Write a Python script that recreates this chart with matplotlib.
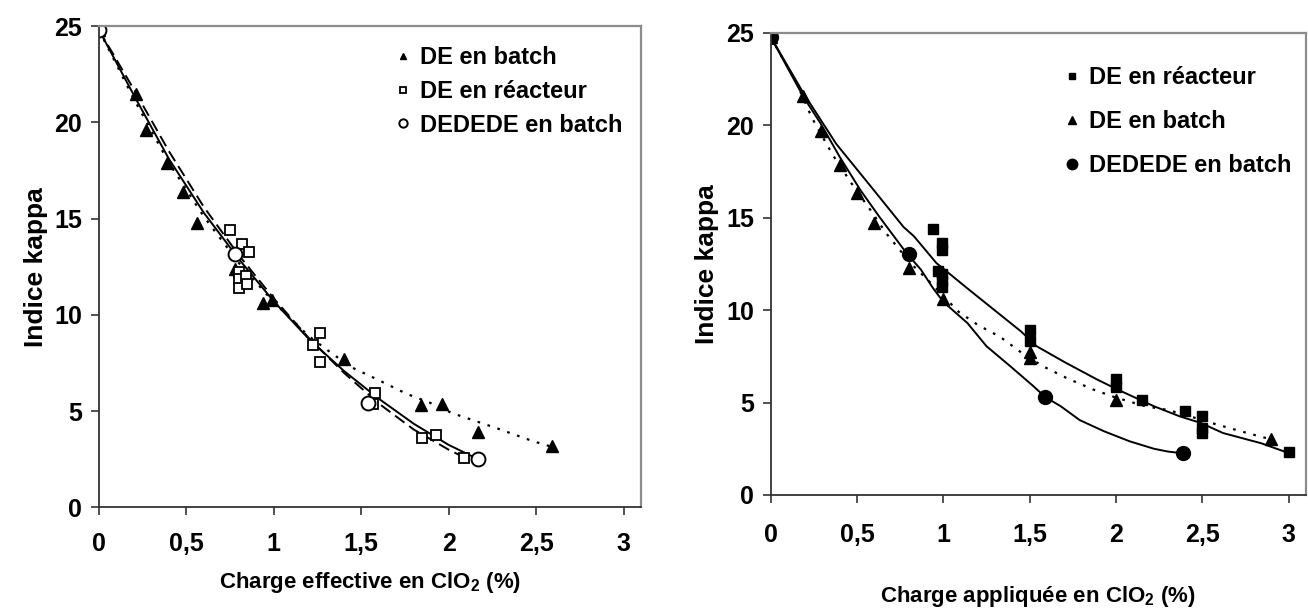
import matplotlib
matplotlib.use("Agg")
import matplotlib.pyplot as plt

plt.rcParams['font.family'] = ['Liberation Sans', 'DejaVu Sans']
plt.rcParams['font.weight'] = 'bold'
plt.rcParams['mathtext.fontset'] = 'custom'
plt.rcParams['mathtext.rm'] = 'Liberation Sans:bold'
plt.rcParams['mathtext.default'] = 'rm'

# --- panel 1 : charge effective ---
eff_batch_x = [0, 0.21, 0.27, 0.39, 0.48, 0.56, 0.78, 0.94, 0.99, 1.40, 1.84, 1.96, 2.17, 2.59]
eff_batch_y = [24.8, 21.5, 19.6, 17.9, 16.4, 14.8, 12.4, 10.6, 10.8, 7.7, 5.3, 5.4, 3.9, 3.2]
eff_reac_x = [0, 0.75, 0.82, 0.855, 0.80, 0.80, 0.80, 0.84, 0.845, 1.265, 1.225, 1.265, 1.58, 1.565, 1.845, 1.93, 2.085]
eff_reac_y = [24.8, 14.4, 13.7, 13.25, 12.25, 11.85, 11.4, 12.0, 11.6, 9.05, 8.45, 7.55, 5.95, 5.4, 3.6, 3.75, 2.55]
eff_ded_x = [0, 0.78, 1.54, 2.17]
eff_ded_y = [24.8, 13.15, 5.45, 2.5]

# trend curves
eff_batch_fit_x = [0, 0.2, 0.4, 0.6, 0.8, 1.0, 1.2, 1.31, 1.44, 1.58, 1.76, 1.89, 2.02, 2.28, 2.48, 2.59]
eff_batch_fit_y = [24.8, 21.2, 17.9, 15.1, 12.7, 10.65, 8.9, 8.15, 7.3, 6.7, 5.9, 5.45, 4.9, 4.1, 3.45, 3.15]
eff_reac_fit_x = [0, 0.2, 0.4, 0.6, 0.8, 1.0, 1.2, 1.4, 1.6, 1.8, 2.0, 2.09]
eff_reac_fit_y = [24.8, 21.7, 18.5, 15.6, 13.1, 10.85, 8.8, 7.0, 5.4, 4.05, 3.0, 2.6]
eff_ded_fit_x = [0, 0.2, 0.4, 0.6, 0.8, 1.0, 1.2, 1.4, 1.6, 1.8, 2.0, 2.17]
eff_ded_fit_y = [24.8, 21.4, 18.1, 15.3, 12.9, 10.7, 8.75, 7.1, 5.65, 4.35, 3.25, 2.5]

# --- panel 2 : charge appliquee ---
app_reac_x = [0, 0.94, 0.99, 0.99, 0.97, 0.99, 0.99, 0.99, 1.5, 1.5, 2.0, 2.0, 2.15, 2.4, 2.5, 2.5, 2.5, 3.0]
app_reac_y = [24.8, 14.4, 13.65, 13.25, 12.1, 11.95, 11.6, 11.25, 8.9, 8.35, 6.25, 5.85, 5.15, 4.55, 4.3, 3.65, 3.35, 2.3]
app_batch_x = [0, 0.19, 0.29, 0.4, 0.5, 0.6, 0.8, 1.0, 1.5, 1.5, 2.0, 2.9]
app_batch_y = [24.8, 21.6, 19.7, 17.85, 16.35, 14.7, 12.3, 10.6, 7.75, 7.4, 5.15, 3.05]
app_ded_x = [0, 0.8, 1.59, 2.39]
app_ded_y = [24.8, 13.05, 5.3, 2.25]

app_reac_fit_x = [0, 0.19, 0.38, 0.58, 0.77, 0.83, 0.96, 1.15, 1.45, 1.54, 1.7, 1.89, 2.01, 2.22, 2.37, 2.49, 2.62, 2.84, 2.99]
app_reac_fit_y = [24.8, 21.75, 19.0, 16.7, 14.5, 14.0, 12.55, 11.1, 8.85, 8.05, 7.2, 6.25, 5.7, 4.8, 4.25, 3.9, 3.35, 2.8, 2.3]
app_batch_fit_x = [0, 0.15, 0.24, 0.36, 0.48, 0.58, 0.67, 0.81, 0.93, 1.09, 1.2, 1.33, 1.46, 1.58, 1.72, 1.87, 1.99, 2.17, 2.3, 2.43, 2.57, 2.76, 2.9]
app_batch_fit_y = [24.8, 22.3, 20.4, 18.4, 16.7, 15.4, 14.15, 12.55, 11.45, 9.9, 9.2, 8.55, 7.65, 6.95, 6.3, 5.7, 5.3, 4.8, 4.6, 4.25, 3.85, 3.35, 3.0]
app_ded_fit_x = [0, 0.19, 0.29, 0.4, 0.52, 0.63, 0.79, 0.87, 0.94, 1.0, 1.14, 1.25, 1.39, 1.52, 1.59, 1.68, 1.79, 1.93, 2.08, 2.22, 2.3, 2.39]
app_ded_fit_y = [24.8, 21.55, 20.1, 18.3, 16.5, 15.05, 13.05, 12.2, 11.2, 10.45, 9.3, 8.05, 6.95, 5.9, 5.3, 4.8, 4.05, 3.45, 2.9, 2.5, 2.35, 2.25]

xticks = [0, 0.5, 1, 1.5, 2, 2.5, 3]
xtick_labels = ['0', '0,5', '1', '1,5', '2', '2,5', '3']
yticks = [0, 5, 10, 15, 20, 25]

fig = plt.figure(figsize=(13.08, 6.08), dpi=100)
ax1 = fig.add_axes([0.0757, 0.1653, 0.4144, 0.7917])
ax2 = fig.add_axes([0.5891, 0.1859, 0.4094, 0.7599])

dotted = (0, (1.2, 3.5))
dashed = (0, (6, 3))

# left panel
ax1.plot(eff_batch_fit_x, eff_batch_fit_y, color='black', lw=1.6, ls=dotted)
ax1.plot(eff_reac_fit_x, eff_reac_fit_y, color='black', lw=1.4, ls=dashed)
ax1.plot(eff_ded_fit_x, eff_ded_fit_y, color='black', lw=1.4)
ax1.plot(eff_batch_x, eff_batch_y, ls='none', marker='^', ms=8, color='black',
         label='DE en batch')
ax1.plot(eff_reac_x, eff_reac_y, ls='none', marker='s', ms=6.5, mfc='white', mec='black',
         mew=1.3, label='DE en réacteur')
ax1.plot(eff_ded_x, eff_ded_y, ls='none', marker='o', ms=10, mfc='white', mec='black',
         mew=1.4, label='DEDEDE en batch')
ax1.set_xlabel('Charge effective en ClO$_2$ (%)', fontsize=16, fontweight='bold', labelpad=10)

# right panel
ax2.plot(app_batch_fit_x, app_batch_fit_y, color='black', lw=1.6, ls=dotted)
ax2.plot(app_reac_fit_x, app_reac_fit_y, color='black', lw=1.4)
ax2.plot(app_ded_fit_x, app_ded_fit_y, color='black', lw=1.4)
ax2.plot(app_reac_x, app_reac_y, ls='none', marker='s', ms=6.5, color='black',
         label='DE en réacteur')
ax2.plot(app_batch_x, app_batch_y, ls='none', marker='^', ms=8, color='black',
         label='DE en batch')
ax2.plot(app_ded_x, app_ded_y, ls='none', marker='o', ms=10, color='black',
         label='DEDEDE en batch')
ax2.set_xlabel('Charge appliquée en ClO$_2$ (%)', fontsize=16, fontweight='bold', labelpad=27)

for ax in (ax1, ax2):
    ax.set_xlim(0, 3.1)
    ax.set_ylim(0, 25)
    ax.set_xticks(xticks)
    ax.set_xticklabels(xtick_labels)
    ax.set_yticks(yticks)
    ax.tick_params(axis='both', direction='out', length=6, width=1.2, colors='#333333',
                   labelcolor='black', labelsize=18)
    ax.tick_params(axis='y', pad=6)
    for lab in ax.get_xticklabels() + ax.get_yticklabels():
        lab.set_fontweight('bold')
    ax.spines['left'].set_color('#333333')
    ax.spines['bottom'].set_color('#333333')
    ax.spines['left'].set_linewidth(1.3)
    ax.spines['bottom'].set_linewidth(1.3)
    ax.spines['top'].set_color('#8c8c8c')
    ax.spines['right'].set_color('#8c8c8c')
    ax.spines['top'].set_linewidth(1.6)
    ax.spines['right'].set_linewidth(1.6)
    ax.set_ylabel('Indice kappa', fontsize=19, fontweight='bold', labelpad=5)

ax1.tick_params(axis='x', pad=12)
ax2.tick_params(axis='x', pad=14)

leg1 = ax1.legend(loc='upper left', bbox_to_anchor=(0.548, 0.958), frameon=False,
                  fontsize=17, handlelength=0.6, handletextpad=0.4, labelspacing=0.45,
                  markerscale=0.6, borderaxespad=0, borderpad=0)
leg2 = ax2.legend(loc='upper left', bbox_to_anchor=(0.55, 0.9286), frameon=False,
                  fontsize=17, handlelength=0.6, handletextpad=0.4, labelspacing=0.9,
                  markerscale=0.75, borderaxespad=0, borderpad=0)
for leg in (leg1, leg2):
    for t in leg.get_texts():
        t.set_fontweight('bold')

fig.savefig('out.png', dpi=100)
